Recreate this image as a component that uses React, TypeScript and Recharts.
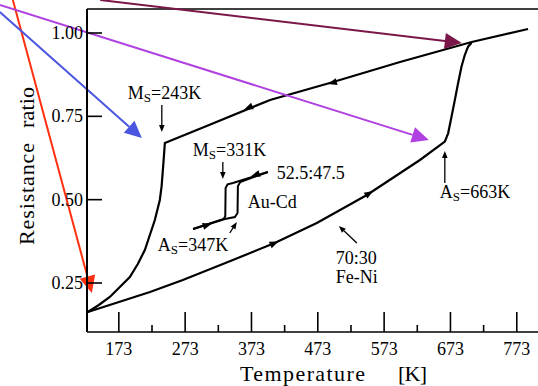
import React from 'react';
import { LineChart, Line, XAxis, YAxis, ReferenceLine, ReferenceDot, Label } from 'recharts';

// Fe-Ni 70:30, cooling branch (upper line, then the drop below Ms)
const feNiCoolT = [790, 705, 597, 491, 401, 310, 242.4, 239.8, 237.4, 234.8, 227.3, 212.2, 201.6, 189.6, 159.4, 142.8, 126.3];
const feNiCoolR = [1.012, 0.973, 0.913, 0.85, 0.799, 0.725, 0.67, 0.599, 0.539, 0.499, 0.439, 0.349, 0.307, 0.268, 0.208, 0.184, 0.163];
// Fe-Ni 70:30, heating branch (lower line, then the rise above As)
const feNiHeatT = [126.3, 220, 269.5, 345, 408, 471.5, 547, 627, 664.5, 669.5, 674.6, 679.6, 684.5, 689.6, 694.6, 699.6, 704.7];
const feNiHeatR = [0.163, 0.223, 0.259, 0.319, 0.37, 0.43, 0.514, 0.619, 0.674, 0.699, 0.749, 0.799, 0.849, 0.899, 0.934, 0.959, 0.971];
// Au-Cd 52.5:47.5 small loop
const auCdCoolT = [397.6, 345, 337, 334, 333.5, 331, 285];
const auCdCoolR = [0.583, 0.55, 0.546, 0.535, 0.45, 0.442, 0.412];
const auCdHeatT = [285, 333, 348, 352, 352.5, 356, 397.6];
const auCdHeatR = [0.412, 0.442, 0.448, 0.46, 0.54, 0.553, 0.583];

const xTicks = [173, 223, 273, 323, 373, 423, 473, 523, 573, 623, 673, 723, 773];
const yTicks = [0.25, 0.5, 0.75, 1.0];
const X_DOMAIN = [125, 805];
const Y_DOMAIN = [0.103, 1.072];

const toPoints = (ts: number[], rs: number[]) => ts.map((t, i) => ({ t, r: rs[i] }));

// coloured overlay arrows [fromT, fromR, toT, toR, colour]
const overlayArrows: [number, number, number, number, string][] = [
  [13.2, 1.099, 132.3, 0.22, '#ff3010'],
  [-6.4, 1.063, 207.7, 0.685, '#4a55e0'],
  [-6.4, 1.084, 640.4, 0.679, '#b040e0'],
  [145, 1.099, 690.1, 0.97, '#7b1748'],
];

// thin black pointer arrows
const pointers: [number, number, number, number][] = [
  [237.8, 0.784, 237.8, 0.703],
  [329.8, 0.613, 329.8, 0.562],
  [340.3, 0.4, 350.9, 0.433],
  [664.5, 0.55, 664.5, 0.646],
  [531.8, 0.37, 504.7, 0.421],
];

// direction arrowheads along the curves [T, R, angle in degrees on screen]
const curveHeads: [number, number, number][] = [
  [367.5, 0.775, 157.7],
  [494.1, 0.85, 163.9],
  [408.2, 0.37, -23.8],
  [551.4, 0.52, -31.5],
  [307.2, 0.424, -17],
  [378, 0.574, 162.6],
];

// annotations: [T, R, main, sub, rest]
const notes: [number, number, string, string, string][] = [
  [186.6, 0.802, 'M', 'S', '=243K'],
  [284.6, 0.631, 'M', 'S', '=331K'],
  [411.2, 0.562, '52.5:47.5', '', ''],
  [367.5, 0.475, 'Au-Cd', '', ''],
  [231.8, 0.346, 'A', 'S', '=347K'],
  [657, 0.505, 'A', 'S', '=663K'],
  [500, 0.307, '70:30', '', ''],
  [500, 0.25, 'Fe-Ni', '', ''],
];

const FONT = 'Liberation Serif, serif';
const txt = { fontFamily: FONT };

const arrowShape = (color: string, width: number, head: number, half: number) => (p: any) => {
  const { x1, y1, x2, y2 } = p;
  const a = Math.atan2(y2 - y1, x2 - x1);
  const bx = x2 - head * Math.cos(a);
  const by = y2 - head * Math.sin(a);
  const px = -Math.sin(a) * half;
  const py = Math.cos(a) * half;
  return (
    <g>
      <line x1={x1} y1={y1} x2={bx} y2={by} stroke={color} strokeWidth={width} />
      <polygon points={`${x2},${y2} ${bx + px},${by + py} ${bx - px},${by - py}`} fill={color} />
    </g>
  );
};

const XTick = ({ x, y, payload }: any) => {
  const major = (payload.value - 173) % 100 === 0;
  return (
    <g>
      <line x1={x} x2={x} y1={y} y2={y - (major ? 20 : 7)} stroke="#000" strokeWidth={1.6} />
      {major && (
        <text x={x} y={y + 23} textAnchor="middle" fontSize={18} fill="#000" style={txt}>
          {payload.value}
        </text>
      )}
    </g>
  );
};

const YTick = ({ x, y, payload }: any) => (
  <g>
    <line x1={x} x2={x + 15} y1={y} y2={y} stroke="#000" strokeWidth={1.6} />
    <text x={x - 4} y={y + 6} textAnchor="end" fontSize={18} fill="#000" style={txt}>
      {payload.value.toFixed(2)}
    </text>
  </g>
);

const xTitle = ({ viewBox }: any) => (
  <g fontSize={22} fill="#000" style={txt}>
    <text x={viewBox.x + 153} y={viewBox.y + 49} textLength={125} style={txt}>Temperature</text>
    <text x={viewBox.x + 311} y={viewBox.y + 49} textLength={29} style={txt}>[K]</text>
  </g>
);

const yTitle = ({ viewBox }: any) => {
  const bx = viewBox.x + 34;
  const r1 = viewBox.y + 236;
  const r2 = viewBox.y + 119;
  return (
    <g fontSize={22} fill="#000" style={txt}>
      <text x={bx} y={r1} transform={`rotate(-90, ${bx}, ${r1})`} textLength={102} style={txt}>Resistance</text>
      <text x={bx} y={r2} transform={`rotate(-90, ${bx}, ${r2})`} textLength={41} style={txt}>ratio</text>
    </g>
  );
};

const noteShape = (main: string, sub: string, rest: string) => (p: any) => (
  <text x={p.cx} y={p.cy} fontSize={18} fill="#000" style={txt}>
    <tspan>{main}</tspan>
    {sub && <tspan fontSize={13} dy={3}>{sub}</tspan>}
    {rest && <tspan dy={sub ? -3 : 0}>{rest}</tspan>}
  </text>
);

const headShape = (angle: number) => (p: any) => (
  <polygon
    points="4,0 -5,-3.5 -5,3.5"
    fill="#000"
    transform={`translate(${p.cx}, ${p.cy}) rotate(${angle})`}
  />
);

export default function App() {
  return (
    <div style={{ position: 'absolute', left: 0, top: 0, width: 538, height: 386, background: '#fff', fontFamily: FONT }}>
      <LineChart
        width={538}
        height={386}
        margin={{ top: 9, right: 0, left: 0, bottom: 0 }}
        style={{ fontFamily: FONT }}
      >
        <XAxis
          dataKey="t"
          type="number"
          domain={X_DOMAIN}
          ticks={xTicks}
          interval={0}
          height={54}
          tickSize={0}
          tickMargin={0}
          tickLine={false}
          axisLine={{ stroke: '#000', strokeWidth: 1.6 }}
          tick={<XTick />}
          allowDataOverflow
        >
          <Label content={xTitle} />
        </XAxis>
        <YAxis
          type="number"
          domain={Y_DOMAIN}
          ticks={yTicks}
          interval={0}
          width={87}
          tickSize={0}
          tickMargin={0}
          tickLine={false}
          axisLine={{ stroke: '#000', strokeWidth: 2 }}
          tick={<YTick />}
          allowDataOverflow
        >
          <Label content={yTitle} />
        </YAxis>
        <ReferenceLine y={Y_DOMAIN[1]} stroke="#000" strokeWidth={1.6} ifOverflow="visible" />

        <Line data={toPoints(feNiCoolT, feNiCoolR)} dataKey="r" type="linear" stroke="#000" strokeWidth={2.2} dot={false} isAnimationActive={false} />
        <Line data={toPoints(feNiHeatT, feNiHeatR)} dataKey="r" type="linear" stroke="#000" strokeWidth={2.2} dot={false} isAnimationActive={false} />
        <Line data={toPoints(auCdCoolT, auCdCoolR)} dataKey="r" type="linear" stroke="#000" strokeWidth={2} dot={false} isAnimationActive={false} />
        <Line data={toPoints(auCdHeatT, auCdHeatR)} dataKey="r" type="linear" stroke="#000" strokeWidth={2} dot={false} isAnimationActive={false} />

        {curveHeads.map(([t, r, a], i) => (
          <ReferenceDot key={`h${i}`} x={t} y={r} r={0} ifOverflow="visible" shape={headShape(a)} />
        ))}
        {pointers.map(([a, b, c, d], i) => (
          <ReferenceLine
            key={`p${i}`}
            segment={[{ x: a, y: b }, { x: c, y: d }]}
            ifOverflow="visible"
            shape={arrowShape('#000', 1.3, 7, 2.8)}
          />
        ))}
        {notes.map(([t, r, m, s, rest], i) => (
          <ReferenceDot key={`n${i}`} x={t} y={r} r={0} ifOverflow="visible" shape={noteShape(m, s, rest)} />
        ))}
        {overlayArrows.map(([a, b, c, d, col], i) => (
          <ReferenceLine
            key={`o${i}`}
            segment={[{ x: a, y: b }, { x: c, y: d }]}
            ifOverflow="visible"
            shape={arrowShape(col, 2, 17, 8)}
          />
        ))}
      </LineChart>
    </div>
  );
}
